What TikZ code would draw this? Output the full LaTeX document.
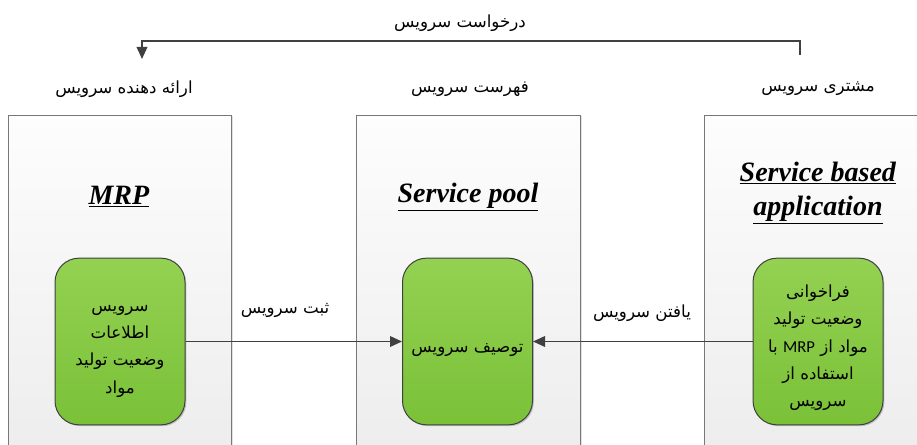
\documentclass[tikz,border=0pt]{standalone}
\usepackage{fontspec}
\setmainfont{Liberation Serif}
\newfontfamily\farsi[Script=Arabic]{DejaVu Sans}
\newfontfamily\latinsans{Carlito}
\TeXXeTstate=1
\usetikzlibrary{arrows.meta,positioning,shadows}

\definecolor{lanetop}{RGB}{253,253,253}
\definecolor{lanebot}{RGB}{236,236,236}
\definecolor{laneedge}{RGB}{120,120,120}
\definecolor{greentop}{RGB}{148,209,82}
\definecolor{greenbot}{RGB}{122,193,56}
\definecolor{darkline}{RGB}{64,64,64}

\newcommand{\fa}[1]{{\farsi\beginR #1\endR}}
\newcommand{\ttl}[1]{\underline{\textbf{\textit{#1}}}}
\newcommand{\lowstrut}{\rule{0pt}{19pt}}

\tikzset{every picture/.style={line width=0.75pt}}
\tikzset{
  lane/.style={draw=laneedge, top color=lanetop, bottom color=lanebot,
    drop shadow={shadow xshift=1.5pt, shadow yshift=0pt, fill=black, opacity=0.12}},
  svcbox/.style={draw=darkline, rounded corners=18pt, top color=greentop, bottom color=greenbot,
    minimum width=97.5pt, minimum height=125pt, align=center, inner sep=2pt,
    font=\fontsize{12.5}{20.5}\selectfont,
    drop shadow={shadow xshift=1pt, shadow yshift=-1pt, fill=black, opacity=0.2}},
  lbl/.style={font=\fontsize{12.5}{15}\selectfont, inner sep=1pt},
  title/.style={font=\fontsize{21}{26}\selectfont, align=center, inner sep=0pt},
  conn/.style={draw=darkline, line width=1.1pt, -{Triangle[length=9pt,width=8pt]}}
}

\begin{document}
\begin{tikzpicture}[x=0.75pt,y=0.75pt,yscale=-1]
\useasboundingbox (0,0) rectangle (917,445);
\clip (0,0) rectangle (917,445);

%Lanes
\draw[lane] (8,116) rectangle (231,470);
\draw[lane] (356,116) rectangle (580,470);
\draw[lane] (704,116) rectangle (940,470);

%Lane headers
\node[lbl] (provider) at (124,89) {\fa{ارائه دهنده سرویس}};
\node[lbl] (pool) at (470,89) {\fa{فهرست سرویس}};
\node[lbl] (client) at (818,89) {\fa{مشتری سرویس}};

%Lane titles
\node[title] (mrptitle) at (119,197) {\ttl{MRP}};
\node[title] (pooltitle) at (468,197) {\ttl{Service pool}};
\node[title] (apptitle) at (818,193) {\ttl{Service based}\\[0pt]\ttl{application}};

%Service boxes
\node[svcbox] (mrpsvc) at (120,341.5)
  {\lowstrut\fa{سرویس}\\\fa{اطلاعات}\\\fa{وضعیت تولید}\\\fa{مواد}};
\node[svcbox] (pooldesc) at (467.5,341.5) {\lowstrut\fa{توصیف سرویس}};
\node[svcbox] (appcall) at (818,341.5)
  {\lowstrut\fa{فراخوانی}\\\fa{وضعیت تولید}\\{\farsi\beginR مواد از \beginL{\latinsans MRP}\endL{} با\endR}\\\fa{استفاده از}\\\fa{سرویس}};

%Connectors
\draw[conn] (mrpsvc) -- (pooldesc);
\draw[conn] (appcall) -- (pooldesc);
\node[lbl] (register) at (285,310) {\fa{ثبت سرویس}};
\node[lbl] (discover) at (642,313) {\fa{یافتن سرویس}};

%Request arrow
\coordinate (reqfrom) at (800,55);
\coordinate (reqto) at (142,59);
\draw[conn] (reqfrom) -- ++(0,-14) -| (reqto);
\node[lbl] (request) at (460,23) {\fa{درخواست سرویس}};

\end{tikzpicture}
\end{document}
